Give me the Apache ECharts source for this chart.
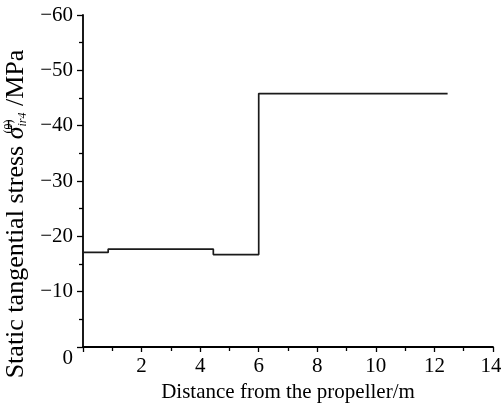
<!DOCTYPE html>
<html>
<head>
<meta charset="utf-8">
<script src="https://cdn.jsdelivr.net/npm/echarts@6/dist/echarts.min.js"></script>
<style>html,body{margin:0;padding:0;background:#fff}#c{width:501px;height:404px}</style>
</head>
<body>
<div id="c"></div>
<script>
// Step breakpoints (distance, m) and stress value held from each breakpoint (MPa)
var distances = [0, 0.86, 4.45, 6.0, 12.45];
var stresses = [-17.1, -17.7, -16.7, -45.8, -45.8];
var xTicks = [0, 2, 4, 6, 8, 10, 12, 14];
var yTicks = [0, -10, -20, -30, -40, -50, -60];

var data = distances.map(function (d, i) { return [d, stresses[i]]; });
var FONT = 'Liberation Serif';
var chart = echarts.init(document.getElementById('c'), null, {renderer: 'canvas'});
chart.setOption({
  backgroundColor: '#fff',
  animation: false,
  grid: {left: 83, right: 8, top: 15, bottom: 57, containLabel: false, outerBoundsMode: 'none'},
  xAxis: {
    type: 'value', min: 0, max: 14, interval: 2,
    name: 'Distance from the propeller/m', nameLocation: 'middle', nameGap: 33,
    nameTextStyle: {fontFamily: FONT, fontSize: 21, color: '#000'},
    axisLine: {onZero: false, lineStyle: {color: '#000', width: 1.8}},
    axisTick: {inside: false, length: 5, lineStyle: {color: '#000', width: 1.3}},
    minorTick: {show: true, splitNumber: 2, length: 4, lineStyle: {color: '#000', width: 1.3}},
    splitLine: {show: false},
    axisLabel: {fontFamily: FONT, fontSize: 21, color: '#000', margin: 9,
      formatter: function (v) {
        if (v === 0) return '';
        if (v === 14) return '{e|14}';
        return String(v);
      },
      rich: {e: {fontFamily: FONT, fontSize: 21, color: '#000', padding: [0, 4, 0, 0]}}
    }
  },
  yAxis: {
    type: 'value', min: -60, max: 0, interval: 10, inverse: true,
    name: '{a|Static tangential stress }{s|σ\u0304}{sup|(0)}{sub|ir4}{a| /MPa}',
    nameLocation: 'middle', nameGap: 47, nameRotate: 90,
    nameTextStyle: {fontFamily: FONT, fontSize: 26, color: '#000', padding: [0, 66, 0, 0],
      rich: {
        a: {fontFamily: FONT, fontSize: 26, color: '#000'},
        s: {fontFamily: FONT, fontSize: 26, fontStyle: 'italic', color: '#000'},
        sup: {fontFamily: FONT, fontSize: 12, color: '#000', width: 0.01, align: 'left', verticalAlign: 'top', padding: [0, 0, 10, 0]},
        sub: {fontFamily: FONT, fontSize: 12, fontStyle: 'italic', color: '#000', verticalAlign: 'bottom', padding: [10, 0, 0, 0]}
      }},
    axisLine: {onZero: false, lineStyle: {color: '#000', width: 1.8}},
    axisTick: {inside: false, length: 6, lineStyle: {color: '#000', width: 1.3}},
    minorTick: {show: true, splitNumber: 2, length: 4, lineStyle: {color: '#000', width: 1.3}},
    splitLine: {show: false},
    axisLabel: {fontFamily: FONT, fontSize: 21, color: '#000', margin: 10,
      formatter: function (v) {
        if (v === 0) return '{z|0}';
        return v < 0 ? '\u2212' + Math.abs(v) : String(v);
      },
      rich: {z: {fontFamily: FONT, fontSize: 21, color: '#000', padding: [22, 0, 0, 0]}}
    }
  },
  series: [{
    type: 'line', step: 'end', data: data, symbol: 'none',
    lineStyle: {color: '#1a1a1a', width: 1.7}
  }]
});
</script>
</body>
</html>
